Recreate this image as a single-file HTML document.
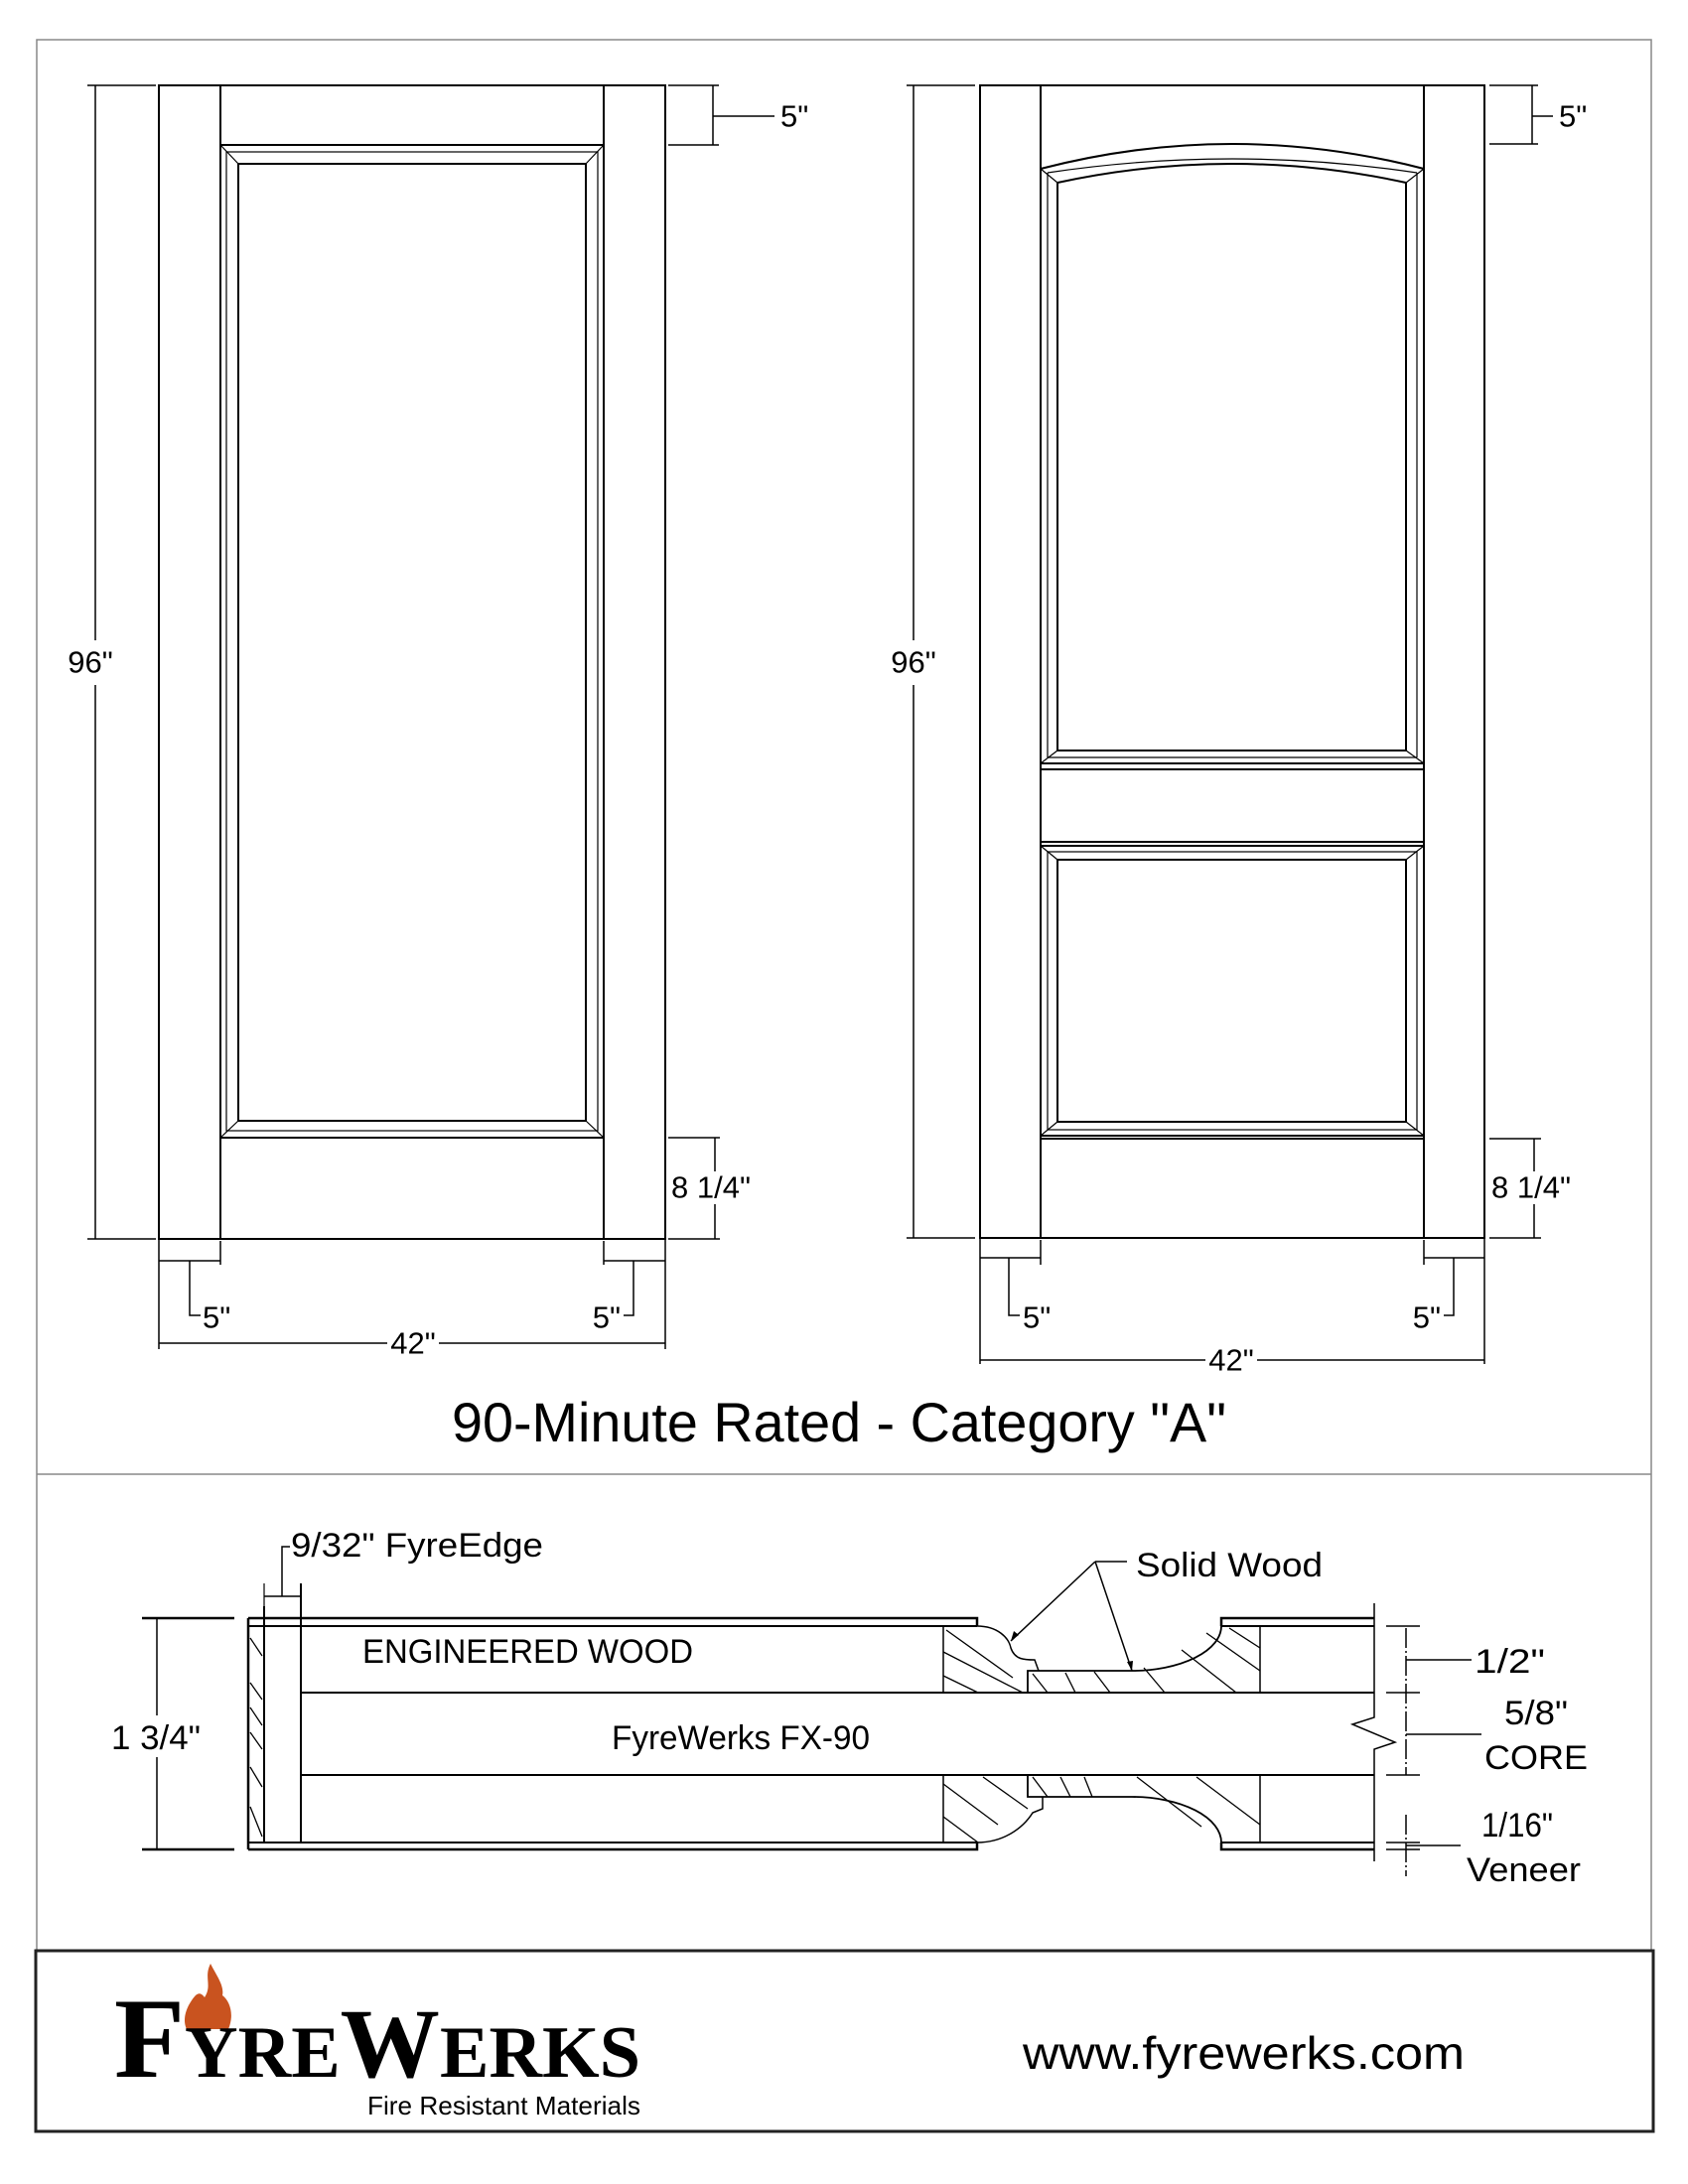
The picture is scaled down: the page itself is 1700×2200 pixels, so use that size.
<!DOCTYPE html>
<html><head><meta charset="utf-8"><style>
html,body{margin:0;padding:0;background:#fff}
svg{display:block}
</style></head><body>
<svg width="1700" height="2200" viewBox="0 0 1700 2200" xmlns="http://www.w3.org/2000/svg" style="font-family:'Liberation Sans',Arial,sans-serif">
<rect x="0" y="0" width="1700" height="2200" fill="#fff"/>
<g stroke="#888" stroke-width="1.5" fill="none">
<path d="M37 1965 V40 H1663 V1965"/>
<line x1="37" y1="1485" x2="1663" y2="1485"/>
</g>
<rect x="36" y="1965" width="1629" height="182" fill="none" stroke="#222" stroke-width="3"/>

<!-- LEFT DOOR -->
<g stroke="#000" stroke-width="2" fill="none">
<rect x="160" y="86" width="510" height="1162"/>
<line x1="222" y1="86" x2="222" y2="1248"/>
<line x1="608" y1="86" x2="608" y2="1248"/>
<rect x="222" y="146" width="386" height="1000"/>
<rect x="228" y="153" width="374" height="986" stroke-width="1.2"/>
<rect x="240" y="165" width="350" height="964"/>
<line x1="222" y1="146" x2="240" y2="165" stroke-width="1.2"/>
<line x1="608" y1="146" x2="590" y2="165" stroke-width="1.2"/>
<line x1="222" y1="1146" x2="240" y2="1129" stroke-width="1.2"/>
<line x1="608" y1="1146" x2="590" y2="1129" stroke-width="1.2"/>
</g>
<g stroke="#000" stroke-width="1.5" fill="none">
<line x1="88" y1="86" x2="157" y2="86"/><line x1="88" y1="1248" x2="157" y2="1248"/>
<line x1="96" y1="86" x2="96" y2="645"/><line x1="96" y1="690" x2="96" y2="1248"/>
<line x1="673" y1="86" x2="724" y2="86"/><line x1="673" y1="146" x2="724" y2="146"/>
<line x1="718" y1="86" x2="718" y2="146"/><line x1="718" y1="117" x2="780" y2="117"/>
<line x1="673" y1="1146" x2="725" y2="1146"/><line x1="673" y1="1248" x2="725" y2="1248"/>
<line x1="720" y1="1146" x2="720" y2="1180"/><line x1="720" y1="1213" x2="720" y2="1248"/>
<line x1="160" y1="1248" x2="160" y2="1359"/><line x1="670" y1="1248" x2="670" y2="1359"/>
<line x1="160" y1="1353" x2="390" y2="1353"/><line x1="442" y1="1353" x2="670" y2="1353"/>
<line x1="222" y1="1250" x2="222" y2="1274"/><line x1="608" y1="1250" x2="608" y2="1274"/>
<line x1="160" y1="1270" x2="222" y2="1270"/><line x1="608" y1="1270" x2="670" y2="1270"/>
<polyline points="191,1270 191,1325 202,1325"/>
<polyline points="638,1270 638,1325 628,1325"/>
</g>
<g font-size="31">
<text x="91" y="667" text-anchor="middle" dominant-baseline="central">96"</text>
<text x="786" y="117" dominant-baseline="central">5"</text>
<text x="676" y="1196" dominant-baseline="central">8 1/4"</text>
<text x="204" y="1327" dominant-baseline="central">5"</text>
<text x="625" y="1327" text-anchor="end" dominant-baseline="central">5"</text>
<text x="416" y="1353" text-anchor="middle" dominant-baseline="central">42"</text>
</g>

<!-- RIGHT DOOR -->
<g stroke="#000" stroke-width="2" fill="none">
<rect x="987" y="86" width="508" height="1161"/>
<line x1="1048" y1="86" x2="1048" y2="1247"/>
<line x1="1434" y1="86" x2="1434" y2="1247"/>
<path d="M1048 170 Q1241 120 1434 170"/>
<path d="M1055 174 Q1241 146 1427 174" stroke-width="1.2"/>
<path d="M1065 184 L1065 756 L1416 756 L1416 184 Q1241 146 1065 184"/>
<line x1="1055" y1="174" x2="1055" y2="763" stroke-width="1.2"/>
<line x1="1427" y1="174" x2="1427" y2="763" stroke-width="1.2"/>
<line x1="1055" y1="763" x2="1427" y2="763" stroke-width="1.2"/>
<line x1="1048" y1="769" x2="1434" y2="769"/>
<line x1="1048" y1="775" x2="1434" y2="775"/>
<line x1="1048" y1="170" x2="1065" y2="184" stroke-width="1.2"/>
<line x1="1434" y1="170" x2="1416" y2="184" stroke-width="1.2"/>
<line x1="1048" y1="769" x2="1065" y2="756" stroke-width="1.2"/>
<line x1="1434" y1="769" x2="1416" y2="756" stroke-width="1.2"/>
<line x1="1048" y1="848" x2="1434" y2="848"/>
<rect x="1048" y="852" width="386" height="292"/>
<rect x="1055" y="858" width="372" height="280" stroke-width="1.2"/>
<rect x="1065" y="866" width="351" height="264"/>
<line x1="1048" y1="852" x2="1065" y2="866" stroke-width="1.2"/>
<line x1="1434" y1="852" x2="1416" y2="866" stroke-width="1.2"/>
<line x1="1048" y1="1144" x2="1065" y2="1130" stroke-width="1.2"/>
<line x1="1434" y1="1144" x2="1416" y2="1130" stroke-width="1.2"/>
<line x1="1048" y1="1147" x2="1434" y2="1147"/>
</g>
<g stroke="#000" stroke-width="1.5" fill="none">
<line x1="913" y1="86" x2="982" y2="86"/><line x1="913" y1="1247" x2="982" y2="1247"/>
<line x1="920" y1="86" x2="920" y2="645"/><line x1="920" y1="690" x2="920" y2="1247"/>
<line x1="1500" y1="86" x2="1549" y2="86"/><line x1="1500" y1="145" x2="1549" y2="145"/>
<line x1="1543" y1="86" x2="1543" y2="145"/><line x1="1543" y1="117" x2="1564" y2="117"/>
<line x1="1500" y1="1147" x2="1552" y2="1147"/><line x1="1500" y1="1247" x2="1552" y2="1247"/>
<line x1="1545" y1="1147" x2="1545" y2="1180"/><line x1="1545" y1="1213" x2="1545" y2="1247"/>
<line x1="987" y1="1247" x2="987" y2="1374"/><line x1="1495" y1="1247" x2="1495" y2="1374"/>
<line x1="987" y1="1370" x2="1214" y2="1370"/><line x1="1266" y1="1370" x2="1495" y2="1370"/>
<line x1="1048" y1="1249" x2="1048" y2="1274"/><line x1="1434" y1="1249" x2="1434" y2="1274"/>
<line x1="987" y1="1267" x2="1048" y2="1267"/><line x1="1434" y1="1267" x2="1495" y2="1267"/>
<polyline points="1016,1267 1016,1325 1027,1325"/>
<polyline points="1464,1267 1464,1325 1454,1325"/>
</g>
<g font-size="31">
<text x="920" y="667" text-anchor="middle" dominant-baseline="central">96"</text>
<text x="1570" y="117" dominant-baseline="central">5"</text>
<text x="1502" y="1196" dominant-baseline="central">8 1/4"</text>
<text x="1030" y="1327" dominant-baseline="central">5"</text>
<text x="1451" y="1327" text-anchor="end" dominant-baseline="central">5"</text>
<text x="1240" y="1370" text-anchor="middle" dominant-baseline="central">42"</text>
</g>

<text x="455" y="1452" font-size="56" textLength="780" lengthAdjust="spacingAndGlyphs">90-Minute Rated - Category "A"</text>

<!-- CROSS SECTION -->
<g stroke="#000" stroke-width="2.5" fill="none">
<polyline points="250,1630 984,1630 984,1638"/>
<line x1="250" y1="1638" x2="984" y2="1638" stroke-width="2"/>
<polyline points="1230,1638 1230,1630 1384,1630"/>
<line x1="1230" y1="1638" x2="1384" y2="1638" stroke-width="2"/>
<polyline points="250,1863 984,1863 984,1856"/>
<line x1="250" y1="1856" x2="984" y2="1856" stroke-width="2"/>
<polyline points="1230,1856 1230,1863 1384,1863"/>
<line x1="1230" y1="1856" x2="1384" y2="1856" stroke-width="2"/>
<line x1="250" y1="1630" x2="250" y2="1863"/>
<line x1="143" y1="1630" x2="236" y2="1630"/>
<line x1="143" y1="1863" x2="236" y2="1863"/>
</g>
<g stroke="#000" stroke-width="2" fill="none">
<line x1="266" y1="1618" x2="266" y2="1856"/>
<line x1="303" y1="1595" x2="303" y2="1856"/>
<line x1="266" y1="1595" x2="266" y2="1630" stroke-width="1.2"/>
<line x1="303" y1="1705" x2="1384" y2="1705"/>
<line x1="303" y1="1788" x2="1384" y2="1788"/>
<line x1="950" y1="1638" x2="950" y2="1705" stroke-width="1.5"/>
<line x1="950" y1="1788" x2="950" y2="1856" stroke-width="1.5"/>
<line x1="1269" y1="1638" x2="1269" y2="1705" stroke-width="1.5"/>
<line x1="1269" y1="1788" x2="1269" y2="1856" stroke-width="1.5"/>
<path d="M1384 1615 V1730 L1362 1737 L1405 1755 L1384 1762 V1875" stroke-width="1.5"/>
<path d="M984 1638 C1005 1638 1016 1650 1018 1660 C1022 1672 1032 1672 1042 1672 L1046 1683" stroke-width="1.5"/>
<path d="M1035 1705 V1683 H1140 A90 45 0 0 0 1230 1638" stroke-width="1.8"/>
<path d="M984 1856 C1010 1856 1030 1842 1040 1826 L1050 1822 V1810" stroke-width="1.5"/>
<path d="M1035 1788 V1810 H1140 A90 46 0 0 1 1230 1856" stroke-width="1.8"/>
</g>
<g stroke="#000" stroke-width="1.3" fill="none">
<line x1="950" y1="1688" x2="985" y2="1705"/>
<line x1="950" y1="1664" x2="1030" y2="1705"/>
<line x1="953" y1="1642" x2="1020" y2="1690"/>
<line x1="1040" y1="1686" x2="1055" y2="1705"/>
<line x1="1073" y1="1685" x2="1083" y2="1705"/>
<line x1="1102" y1="1684" x2="1118" y2="1705"/>
<line x1="1152" y1="1680" x2="1173" y2="1705"/>
<line x1="1190" y1="1662" x2="1245" y2="1705"/>
<line x1="1215" y1="1645" x2="1269" y2="1683"/>
<line x1="1238" y1="1640" x2="1269" y2="1660"/>
<line x1="950" y1="1797" x2="1005" y2="1838"/>
<line x1="950" y1="1830" x2="985" y2="1856"/>
<line x1="990" y1="1790" x2="1035" y2="1822"/>
<line x1="1040" y1="1790" x2="1055" y2="1810"/>
<line x1="1068" y1="1790" x2="1078" y2="1810"/>
<line x1="1092" y1="1790" x2="1100" y2="1810"/>
<line x1="1145" y1="1790" x2="1210" y2="1840"/>
<line x1="1205" y1="1790" x2="1269" y2="1838"/>
<line x1="252" y1="1650" x2="264" y2="1668"/>
<line x1="252" y1="1695" x2="264" y2="1712"/>
<line x1="252" y1="1720" x2="264" y2="1738"/>
<line x1="252" y1="1745" x2="264" y2="1762"/>
<line x1="252" y1="1780" x2="264" y2="1800"/>
<line x1="252" y1="1820" x2="264" y2="1850"/>
</g>
<g stroke="#000" stroke-width="1.5" fill="none">
<line x1="158" y1="1630" x2="158" y2="1728"/><line x1="158" y1="1770" x2="158" y2="1863"/>
<polyline points="292,1558 284,1558 284,1608"/>
<line x1="266" y1="1608" x2="303" y2="1608"/>
<line x1="1103" y1="1573" x2="1135" y2="1573"/>
<line x1="1103" y1="1573" x2="1018" y2="1653"/>
<line x1="1103" y1="1573" x2="1140" y2="1683"/>
<line x1="1396" y1="1638" x2="1430" y2="1638"/>
<line x1="1396" y1="1705" x2="1430" y2="1705"/>
<line x1="1396" y1="1788" x2="1430" y2="1788"/>
<line x1="1396" y1="1856" x2="1430" y2="1856"/>
<line x1="1396" y1="1863" x2="1430" y2="1863"/>
<line x1="1416" y1="1640" x2="1416" y2="1788" stroke-dasharray="20 3 2 3"/>
<line x1="1416" y1="1828" x2="1416" y2="1890" stroke-dasharray="20 3 2 3"/>
<line x1="1416" y1="1672" x2="1482" y2="1672"/>
<line x1="1416" y1="1747" x2="1492" y2="1747"/>
<line x1="1416" y1="1859" x2="1471" y2="1859"/>
</g>
<path d="M1018 1653 l3 -10 l5 4 z M1140 1683 l-5 -9 l6 -1 z" fill="#000"/>
<g font-size="34" style="font-family:'Liberation Sans Narrow','Liberation Sans',sans-serif">
<text x="112" y="1762" textLength="90" lengthAdjust="spacingAndGlyphs">1 3/4"</text>
<text x="293" y="1568" textLength="254" lengthAdjust="spacingAndGlyphs">9/32" FyreEdge</text>
<text x="365" y="1675" textLength="333" lengthAdjust="spacingAndGlyphs">ENGINEERED WOOD</text>
<text x="616" y="1762" textLength="260" lengthAdjust="spacingAndGlyphs">FyreWerks FX-90</text>
<text x="1144" y="1588" textLength="188" lengthAdjust="spacingAndGlyphs">Solid Wood</text>
<text x="1485" y="1685" textLength="71" lengthAdjust="spacingAndGlyphs">1/2"</text>
<text x="1515" y="1737" textLength="64" lengthAdjust="spacingAndGlyphs">5/8"</text>
<text x="1495" y="1782" textLength="104" lengthAdjust="spacingAndGlyphs">CORE</text>
<text x="1492" y="1850" textLength="72" lengthAdjust="spacingAndGlyphs">1/16"</text>
<text x="1477" y="1895" textLength="115" lengthAdjust="spacingAndGlyphs">Veneer</text>
</g>

<!-- LOGO -->
<path d="M212 1978 C205 1992 214 2000 206 2012 C200 2004 196 2010 190 2020 C184 2032 186 2040 188 2044 L230 2044 C236 2030 232 2016 224 2010 C226 2000 218 1990 212 1978 Z" fill="#c9531f"/>
<text x="115" y="2092" style="font-family:'Liberation Serif','DejaVu Serif',serif;font-weight:bold" font-size="74" textLength="530" lengthAdjust="spacingAndGlyphs"><tspan font-size="116">F</tspan>YRE<tspan font-size="100">W</tspan>ERKS</text>
<text x="370" y="2130" font-size="26" style="font-family:'Liberation Sans Narrow','Liberation Sans',sans-serif" textLength="275" lengthAdjust="spacingAndGlyphs">Fire Resistant Materials</text>
<text x="1030" y="2084" font-size="46" textLength="445" lengthAdjust="spacingAndGlyphs">www.fyrewerks.com</text>
</svg>
</body></html>
